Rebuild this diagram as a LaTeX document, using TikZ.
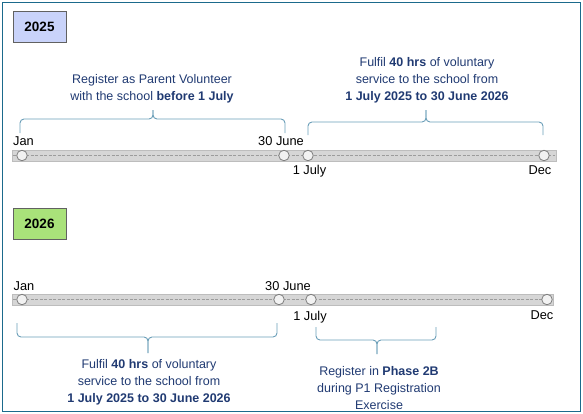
\documentclass[tikz,border=0pt]{standalone}
\usepackage{fontspec}
\setmainfont{Liberation Sans}
\definecolor{framec}{HTML}{1B6A8C}
\definecolor{txtblue}{HTML}{203A72}
\definecolor{bracec}{HTML}{6A9EB8}
\definecolor{boxa}{HTML}{C9D3FA}
\definecolor{boxb}{HTML}{A9E27A}
\definecolor{barfill}{HTML}{D6D6D6}
\definecolor{barline}{HTML}{BDBDBD}
\definecolor{dashc}{HTML}{9C9C9C}
\definecolor{dotfill}{HTML}{F2F2F2}
\definecolor{dotline}{HTML}{7F7F7F}
\newcommand\cbrace[6]{%
  \draw[bracestyle] (#1,#4) -- (#1,#5) -- (#3,#5) -- (#3,#6);
  \draw[bracestyle] (#3,#6) -- (#3,#5) -- (#2,#5) -- (#2,#4);}
\begin{document}
\begin{tikzpicture}[x=1pt,y=-1pt,
  yearbox/.style={draw=black!62,line width=0.9pt,minimum width=53pt,minimum height=31pt,inner sep=0pt,font=\fontsize{13.5}{16}\selectfont\bfseries},
  bar/.style={fill=barfill,draw=barline,line width=0.6pt},
  dashline/.style={draw=dashc,dashed,dash pattern=on 3pt off 1.5pt,line width=0.6pt},
  dot/.style={circle,fill=dotfill,draw=dotline,line width=0.8pt,minimum size=10.5pt,inner sep=0pt},
  lbl/.style={inner sep=0pt,font=\fontsize{12.8}{15}\selectfont},
  note/.style={inner sep=0pt,align=center,text=txtblue,font=\fontsize{12.5}{17}\selectfont},
  bracestyle/.style={draw=bracec,line width=0.9pt,rounded corners=4pt}]
\useasboundingbox (0,0) rectangle (583,413);
\draw[framec,line width=1.5pt] (2.5,2.5) rectangle (580.5,411.5);

% ---- 2025 ----
\node[yearbox,fill=boxa] (y1) at (39.5,26.5) {2025};
\draw[bar] (12,150) rectangle (556,161);
\node[inner sep=0pt] (b1l) at (12,155.5) {};
\node[inner sep=0pt] (b1r) at (556,155.5) {};
\draw[dashline] (b1l) -- (b1r);
\node[dot] (a1) at (22,155.5) {};
\node[dot] (a2) at (284,155.5) {};
\node[dot] (a3) at (308,155.5) {};
\node[dot] (a4) at (544,155.5) {};
\node[lbl] (ljan1) at (23.5,141) {Jan};
\node[lbl] (ljun1) at (281,141) {30 June};
\node[lbl] (ljul1) at (309.5,171) {1 July};
\node[lbl] (ldec1) at (540,170) {Dec};
\cbrace{20}{285}{153}{133}{119}{110}
\cbrace{308}{543}{426}{135}{122}{110}
\node[note] (n1) at (152,89) {Register as Parent Volunteer\\with the school \textbf{before 1 July}};
\node[note] (n2) at (427,80.5) {Fulfil \textbf{40 hrs} of voluntary\\service to the school from\\\textbf{1 July 2025 to 30 June 2026}};

% ---- 2026 ----
\node[yearbox,fill=boxb] (y2) at (39.5,223.5) {2026};
\draw[bar] (12,294) rectangle (553,305);
\node[inner sep=0pt] (b2l) at (12,299.5) {};
\node[inner sep=0pt] (b2r) at (553,299.5) {};
\draw[dashline] (b2l) -- (b2r);
\node[dot] (c1) at (22,299.5) {};
\node[dot] (c2) at (279,299.5) {};
\node[dot] (c3) at (311,299.5) {};
\node[dot] (c4) at (547,299.5) {};
\node[lbl] (ljan2) at (24,286) {Jan};
\node[lbl] (ljun2) at (288,286) {30 June};
\node[lbl] (ljul2) at (310,317) {1 July};
\node[lbl] (ldec2) at (542,315) {Dec};
\cbrace{17}{277}{148}{323}{337}{353}
\cbrace{316}{436}{377}{327}{340}{354}
\node[note] (n3) at (149,382) {Fulfil \textbf{40 hrs} of voluntary\\service to the school from\\\textbf{1 July 2025 to 30 June 2026}};
\node[note] (n4) at (379,388.5) {Register in \textbf{Phase 2B}\\during P1 Registration\\Exercise};
\end{tikzpicture}
\end{document}
